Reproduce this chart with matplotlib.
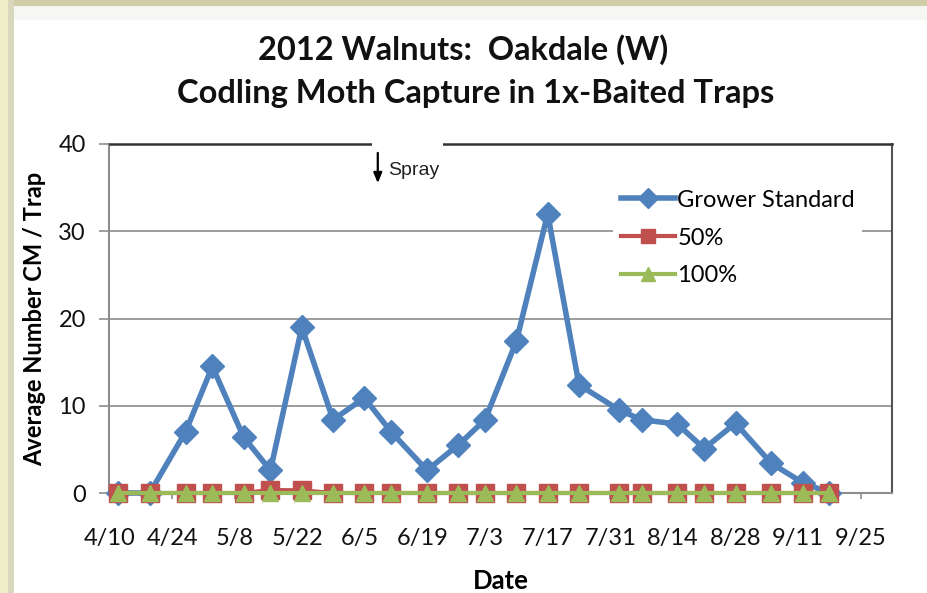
import matplotlib
matplotlib.use("Agg")
import matplotlib.pyplot as plt
import matplotlib.dates as mdates
from matplotlib.patches import Rectangle
import numpy as np
import pandas as pd

# trap check dates (2012)
dates = ["2012-04-12", "2012-04-19", "2012-04-27", "2012-05-03", "2012-05-10",
         "2012-05-16", "2012-05-23", "2012-05-30", "2012-06-06", "2012-06-12",
         "2012-06-20", "2012-06-27", "2012-07-03", "2012-07-10", "2012-07-17",
         "2012-07-24", "2012-08-02", "2012-08-07", "2012-08-15", "2012-08-21",
         "2012-08-28", "2012-09-05", "2012-09-12", "2012-09-18"]

grower_standard = [0, 0, 7.0, 14.5, 6.4, 2.6, 19.0, 8.4, 10.9, 7.0, 2.6, 5.5,
                   8.4, 17.4, 32.0, 12.4, 9.5, 8.4, 7.9, 5.1, 8.0, 3.4, 1.2, 0]
pct50 = [0, 0, 0, 0, 0, 0.35, 0.3, 0, 0, 0, 0, 0,
         0, 0, 0, 0, 0, 0, 0, 0, 0, 0, 0, 0]
pct100 = [0, 0, 0, 0, 0, 0, 0, 0, 0, 0, 0, 0,
          0, 0, 0, 0, 0, 0, 0, 0, 0, 0, 0, 0]

series_names = ["Grower Standard", "50%", "100%"]
spray_date = "2012-06-09"
x_start, x_end = "2012-04-10", "2012-10-02"
y_ticks = [0, 10, 20, 30, 40]

d = pd.to_datetime(dates)
tick_dates = pd.date_range("2012-04-10", "2012-09-25", freq="14D")

plt.rcParams["font.family"] = ["Lato", "DejaVu Sans"]

fig = plt.figure(figsize=(9.28, 5.93), dpi=100)
fig.patch.set_facecolor("white")

# slide frame around the chart
frame = [((0, 1 - 6 / 593), 1, 6 / 593, "#D0CEA6"),
         ((0, 1 - 20 / 593), 1, 14 / 593, "#F6F6F4"),
         ((0, 0), 8 / 928, 1, "#EFEDC8"),
         ((8 / 928, 0), 6 / 928, 1, "#D9D8BE")]
for xy, w, h, c in frame:
    fig.patches.append(Rectangle(xy, w, h, transform=fig.transFigure,
                                 facecolor=c, edgecolor="none", zorder=-5))

ax = fig.add_axes([109.5 / 928, 1 - 493 / 593, (892 - 109.5) / 928, 349 / 593])

ax.plot(d, grower_standard, color="#4F81BD", lw=4, marker="D", ms=12,
        markeredgecolor="#4F81BD", label=series_names[0], zorder=3, clip_on=False)
ax.plot(d, pct50, color="#C0504D", lw=3, marker="s", ms=13,
        markeredgecolor="#C0504D", label=series_names[1], zorder=4, clip_on=False)
ax.plot(d, pct100, color="#9BBB59", lw=3, marker="^", ms=11.5,
        markeredgecolor="#9BBB59", label=series_names[2], zorder=5, clip_on=False)

ax.set_xlim(pd.Timestamp(x_start), pd.Timestamp(x_end))
ax.set_ylim(0, 40)
ax.set_yticks(y_ticks)
ax.set_xticks(tick_dates)
ax.set_xticklabels([f"{t.month}/{t.day}" for t in tick_dates])

ax.grid(axis="y", color="#8C8C8C", lw=1.2, zorder=1)
ax.set_axisbelow(True)

for side in ["left", "bottom"]:
    ax.spines[side].set_color("#8C8C8C")
    ax.spines[side].set_linewidth(1.5)
ax.spines["top"].set_color("#333333")
ax.spines["top"].set_linewidth(1.8)
ax.spines["right"].set_color("#555555")
ax.spines["right"].set_linewidth(1.5)

ax.tick_params(axis="y", length=7, width=1.2, color="#8C8C8C", pad=10,
               labelsize=17, labelcolor="#111111")
ax.tick_params(axis="x", length=4, width=1.2, color="#8C8C8C", pad=21,
               labelsize=17, labelcolor="#111111")

ax.set_ylabel("Average Number CM / Trap", fontsize=17, fontweight="bold")
ax.yaxis.set_label_coords(-0.081, 0.5)
ax.set_xlabel("Date", fontsize=18.5, fontweight="bold")
ax.xaxis.set_label_coords(0.5, -0.218)

# spray marker, its text box breaks the top border
sp = mdates.date2num(pd.Timestamp(spray_date))
ax.add_patch(Rectangle((sp - 1.2, 38.2), 15.8, 2.6, facecolor="white", edgecolor="none",
                       clip_on=False, zorder=6))
ax.annotate("", xy=(sp, 35.2), xytext=(sp, 39.3),
            arrowprops=dict(arrowstyle="-|>,head_length=0.6,head_width=0.25",
                            color="black", lw=1.6), zorder=7)
ax.text(sp + 2.4, 36.4, "Spray", fontsize=14, family=["Liberation Sans", "DejaVu Sans"],
        color="#222222", zorder=7)

leg = ax.legend(loc="upper left", bbox_to_anchor=(0.629, 0.923), fontsize=17,
                frameon=True, facecolor="white", edgecolor="none", framealpha=1,
                handlelength=2.3, handletextpad=0.1, labelspacing=0.71,
                borderpad=0.3, fancybox=False)
leg.set_zorder(8)
for h in leg.legend_handles:
    h.set_markersize(10)

fig.text(463 / 928, 1 - 50 / 593, "2012 Walnuts:  Oakdale (W)", ha="center", va="center",
         fontsize=23.5, fontweight="bold", color="#111111")
fig.text(476 / 928, 1 - 93 / 593, "Codling Moth Capture in 1x-Baited Traps", ha="center",
         va="center", fontsize=23.5, fontweight="bold", color="#111111")

fig.savefig("out.png", dpi=100)
